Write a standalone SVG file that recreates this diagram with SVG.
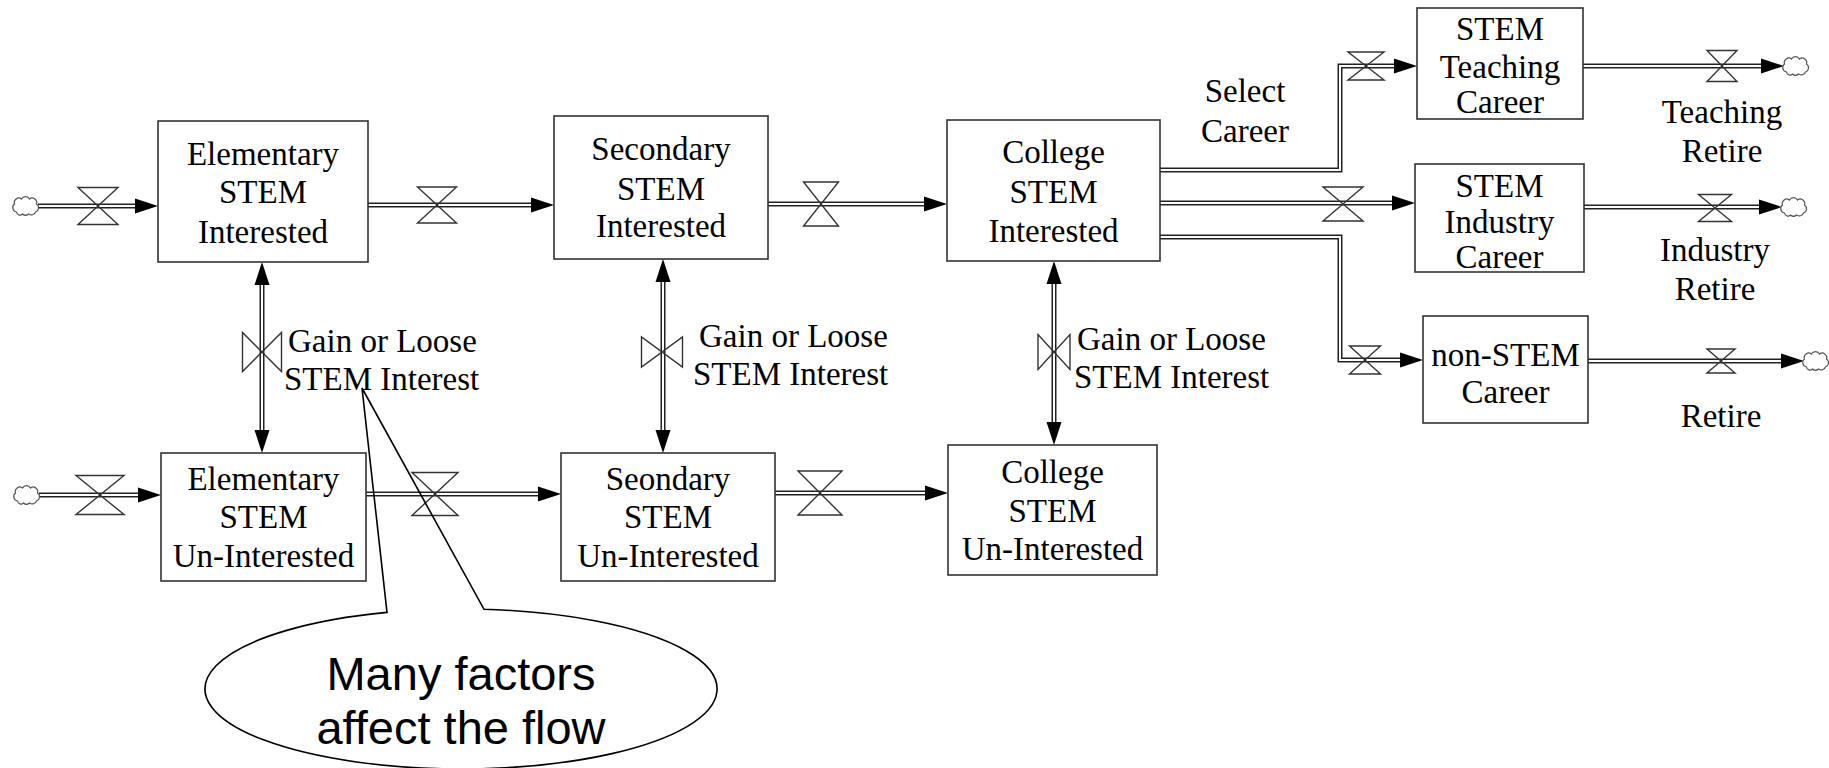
<svg xmlns="http://www.w3.org/2000/svg" xmlns:xlink="http://www.w3.org/1999/xlink" width="1829" height="768" viewBox="0 0 1829 768">
<style>
.box{fill:#fff;stroke:#333;stroke-width:1.6}
.t{font-family:"Liberation Serif","Times New Roman",serif;font-size:33px;fill:#000;text-anchor:middle}
.tl{font-family:"Liberation Serif","Times New Roman",serif;font-size:33px;fill:#000}
.s{font-family:"Liberation Sans",Arial,sans-serif;font-size:47px;fill:#000;text-anchor:middle}
.po{fill:none;stroke:#222;stroke-width:5;stroke-linejoin:miter}
.pi{fill:none;stroke:#fff;stroke-width:2}
.valve{fill:none;stroke:#333;stroke-width:1.4;stroke-linejoin:miter}
.cloud{fill:#fff;stroke:#555;stroke-width:1.2}
.ah{fill:#000}
.callout{fill:none;stroke:#000;stroke-width:1.6}
</style>
<defs>
<path id="arr" d="M0,0 L-23,-7.5 L-23,7.5 Z"/>
<path id="cld" d="M-9.5,6 a4.5,4.5 0 0 1 -2,-8 a4.5,4.5 0 0 1 7,-5 a4.5,4.5 0 0 1 8,0 a4.5,4.5 0 0 1 7,5 a4.5,4.5 0 0 1 -1,8 a4.5,4.5 0 0 1 -7,2 a4.5,4.5 0 0 1 -6,0 a3.5,3.5 0 0 1 -6,-2 z"/>
</defs>

<g id="connectors">
<g id="pipes">
<path class="po" d="M38,206 H140"/><path class="pi" d="M38,206 H140"/>
<path class="po" d="M368,205 H536"/><path class="pi" d="M368,205 H536"/>
<path class="po" d="M768,204 H930"/><path class="pi" d="M768,204 H930"/>
<path class="po" d="M39,495 H143"/><path class="pi" d="M39,495 H143"/>
<path class="po" d="M366,494 H543"/><path class="pi" d="M366,494 H543"/>
<path class="po" d="M775,493 H930"/><path class="pi" d="M775,493 H930"/>
<path class="po" d="M262,278 V437"/><path class="pi" d="M262,278 V437"/>
<path class="po" d="M663,275 V437"/><path class="pi" d="M663,275 V437"/>
<path class="po" d="M1054,277 V429"/><path class="pi" d="M1054,277 V429"/>
<path class="po" d="M1160,170 H1340 V66 H1399"/><path class="pi" d="M1160,170 H1340 V66 H1399"/>
<path class="po" d="M1160,203 H1397"/><path class="pi" d="M1160,203 H1397"/>
<path class="po" d="M1160,237 H1340 V360 H1405"/><path class="pi" d="M1160,237 H1340 V360 H1405"/>
<path class="po" d="M1583,66 H1766"/><path class="pi" d="M1583,66 H1766"/>
<path class="po" d="M1584,207 H1764"/><path class="pi" d="M1584,207 H1764"/>
<path class="po" d="M1588,361 H1786"/><path class="pi" d="M1588,361 H1786"/>
</g>
<g id="arrowheads" class="ah">
<use xlink:href="#arr" href="#arr" transform="translate(158,206)"/>
<use xlink:href="#arr" href="#arr" transform="translate(554,205)"/>
<use xlink:href="#arr" href="#arr" transform="translate(947,204)"/>
<use xlink:href="#arr" href="#arr" transform="translate(161,495)"/>
<use xlink:href="#arr" href="#arr" transform="translate(561,494)"/>
<use xlink:href="#arr" href="#arr" transform="translate(948,493)"/>
<use xlink:href="#arr" href="#arr" transform="translate(262,262) rotate(-90)"/>
<use xlink:href="#arr" href="#arr" transform="translate(262,453) rotate(90)"/>
<use xlink:href="#arr" href="#arr" transform="translate(663,259) rotate(-90)"/>
<use xlink:href="#arr" href="#arr" transform="translate(663,453) rotate(90)"/>
<use xlink:href="#arr" href="#arr" transform="translate(1054,261) rotate(-90)"/>
<use xlink:href="#arr" href="#arr" transform="translate(1054,445) rotate(90)"/>
<use xlink:href="#arr" href="#arr" transform="translate(1417,66)"/>
<use xlink:href="#arr" href="#arr" transform="translate(1415,203)"/>
<use xlink:href="#arr" href="#arr" transform="translate(1423,360)"/>
<use xlink:href="#arr" href="#arr" transform="translate(1784,66)"/>
<use xlink:href="#arr" href="#arr" transform="translate(1782,207)"/>
<use xlink:href="#arr" href="#arr" transform="translate(1804,361)"/>
</g>
<g id="valves">
<path class="valve" d="M78,187.5 H118 L78,224.5 H118 Z"/>
<path class="valve" d="M417.5,187 H456.5 L417.5,223 H456.5 Z"/>
<path class="valve" d="M803.5,182 H838.5 L803.5,226 H838.5 Z"/>
<path class="valve" d="M76,475.5 H124 L76,514.5 H124 Z"/>
<path class="valve" d="M412,472.5 H458 L412,515.5 H458 Z"/>
<path class="valve" d="M798,471 H842 L798,515 H842 Z"/>
<path class="valve" d="M242.5,332.5 V371.5 L281.5,332.5 V371.5 Z"/>
<path class="valve" d="M641.5,337 V367 L682.5,337 V367 Z"/>
<path class="valve" d="M1038,334.5 V369.5 L1070,334.5 V369.5 Z"/>
<path class="valve" d="M1348,52 H1384 L1348,80 H1384 Z"/>
<path class="valve" d="M1323,187 H1363 L1323,221 H1363 Z"/>
<path class="valve" d="M1349.5,346 H1380.5 L1349.5,374 H1380.5 Z"/>
<path class="valve" d="M1707,50.5 H1737 L1707,81.5 H1737 Z"/>
<path class="valve" d="M1698.5,194.5 H1731.5 L1698.5,221.5 H1731.5 Z"/>
<path class="valve" d="M1707,349 H1735 L1707,373 H1735 Z"/>
</g>
<g id="clouds" class="cloud">
<use xlink:href="#cld" href="#cld" transform="translate(26,206)"/>
<use xlink:href="#cld" href="#cld" transform="translate(27,495)"/>
<use xlink:href="#cld" href="#cld" transform="translate(1796,66)"/>
<use xlink:href="#cld" href="#cld" transform="translate(1794,207)"/>
<use xlink:href="#cld" href="#cld" transform="translate(1816,361)"/>
</g>
<g id="flow-labels">
<text class="tl" x="288" y="352">Gain or Loose</text>
<text class="tl" x="284" y="390">STEM Interest</text>
<text class="tl" x="699" y="347">Gain or Loose</text>
<text class="tl" x="693" y="385">STEM Interest</text>
<text class="tl" x="1077" y="350">Gain or Loose</text>
<text class="tl" x="1074" y="388">STEM Interest</text>
<text class="t" x="1245" y="102">Select</text>
<text class="t" x="1245" y="142">Career</text>
<text class="t" x="1722" y="123">Teaching</text>
<text class="t" x="1722" y="162">Retire</text>
<text class="t" x="1715" y="261">Industry</text>
<text class="t" x="1715" y="300">Retire</text>
<text class="t" x="1721" y="427">Retire</text>
</g>
</g>

<g id="elem-int">
<rect class="box" x="158" y="121" width="210" height="141"/>
<text class="t" x="263" y="165">Elementary</text>
<text class="t" x="263" y="203">STEM</text>
<text class="t" x="263" y="243">Interested</text>
</g>
<g id="elem-unint">
<rect class="box" x="161" y="453" width="205" height="128"/>
<text class="t" x="263.5" y="490">Elementary</text>
<text class="t" x="263.5" y="528">STEM</text>
<text class="t" x="263.5" y="567">Un-Interested</text>
</g>
<g id="sec-int">
<rect class="box" x="554" y="116" width="214" height="143"/>
<text class="t" x="661" y="160">Secondary</text>
<text class="t" x="661" y="200">STEM</text>
<text class="t" x="661" y="237">Interested</text>
</g>
<g id="sec-unint">
<rect class="box" x="561" y="453" width="214" height="128"/>
<text class="t" x="668" y="490">Seondary</text>
<text class="t" x="668" y="528">STEM</text>
<text class="t" x="668" y="567">Un-Interested</text>
</g>
<g id="col-int">
<rect class="box" x="947" y="120" width="213" height="141"/>
<text class="t" x="1053.5" y="163">College</text>
<text class="t" x="1053.5" y="203">STEM</text>
<text class="t" x="1053.5" y="242">Interested</text>
</g>
<g id="col-unint">
<rect class="box" x="948" y="445" width="209" height="130"/>
<text class="t" x="1052.5" y="483">College</text>
<text class="t" x="1052.5" y="522">STEM</text>
<text class="t" x="1052.5" y="560">Un-Interested</text>
</g>
<g id="teaching">
<rect class="box" x="1417" y="8" width="166" height="111"/>
<text class="t" x="1500" y="40">STEM</text>
<text class="t" x="1500" y="78">Teaching</text>
<text class="t" x="1500" y="113">Career</text>
</g>
<g id="industry">
<rect class="box" x="1415" y="164" width="169" height="108"/>
<text class="t" x="1499.5" y="197">STEM</text>
<text class="t" x="1499.5" y="233">Industry</text>
<text class="t" x="1499.5" y="268">Career</text>
</g>
<g id="nonstem">
<rect class="box" x="1423" y="316" width="165" height="107"/>
<text class="t" x="1505.5" y="366">non-STEM</text>
<text class="t" x="1505.5" y="403">Career</text>
</g>

<g id="callout">
<path class="callout" d="M484,609.3 A256,80 0 1 1 387,612.4 L362,388 Z"/>
<text class="s" x="461" y="690">Many factors</text>
<text class="s" x="461" y="744">affect the flow</text>
</g>
</svg>
